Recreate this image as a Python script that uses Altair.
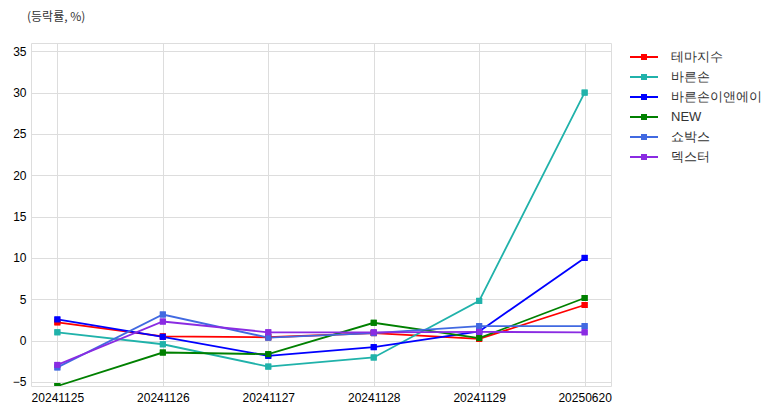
import altair as alt
import pandas as pd

dates = ["20241125", "20241126", "20241127", "20241128", "20241129", "20250620"]
series_names = ["테마지수", "바른손", "바른손이앤에이", "NEW", "쇼박스", "덱스터"]
theme_idx = [2.2, 0.5, 0.4, 0.9, 0.2, 4.3]
barunson = [1.0, -0.45, -3.15, -2.05, 4.8, 30.0]
barunson_ena = [2.55, 0.45, -1.85, -0.8, 1.1, 10.0]
new_vals = [-5.5, -1.45, -1.65, 2.15, 0.3, 5.15]
showbox = [-3.25, 3.15, 0.35, 0.9, 1.75, 1.75]
dexter = [-2.95, 2.3, 1.0, 1.0, 1.05, 1.0]
colors = ["#ff0000", "#20b2aa", "#0000ff", "#008000", "#4169e1", "#8a2be2"]
y_ticks = [-5, 0, 5, 10, 15, 20, 25, 30, 35]

all_vals = [theme_idx, barunson, barunson_ena, new_vals, showbox, dexter]
rows = []
for name, vals in zip(series_names, all_vals):
    for d, v in zip(dates, vals):
        rows.append({"date": d, "series": name, "value": v})
df = pd.DataFrame(rows)

FONT = "Noto Sans CJK KR"
legend_path = "M-2,-0.15 H2 V0.15 H-2 Z M-0.43,-0.43 H0.43 V0.43 H-0.43 Z"

x_enc = alt.X("date:O", sort=dates, title=None,
              scale=alt.Scale(type="point", padding=0.25),
              axis=alt.Axis(labelAngle=0, ticks=False, domain=False, grid=True,
                            labelPadding=6, labelFontSize=12))
y_enc = alt.Y("value:Q", title=None,
              scale=alt.Scale(domain=[-5.5, 36], nice=False, zero=False),
              axis=alt.Axis(values=y_ticks, ticks=False, domain=False, grid=True,
                            labelPadding=5, labelFontSize=12))
color_enc = alt.Color("series:N", sort=series_names,
                      scale=alt.Scale(domain=series_names, range=colors),
                      legend=alt.Legend(title=None, orient="none", legendX=606, legendY=7,
                                        symbolType=legend_path, symbolSize=196,
                                        symbolStrokeWidth=0, symbolOpacity=1,
                                        labelFontSize=13, labelOffset=20, rowPadding=6,
                                        padding=0, labelColor="#333333"))

points = alt.Chart(df).mark_point(shape="square", filled=True, size=36, opacity=1, clip=True).encode(
    x=x_enc, y=y_enc, color=color_enc)
lines = alt.Chart(df).mark_line(strokeWidth=1.8, clip=True).encode(
    x=x_enc, y=y_enc, color=color_enc)

chart = alt.layer(points, lines, points).properties(
    width=580, height=343,
    autosize=alt.AutoSizeParams(type="none"),
    padding={"left": 23, "top": 35, "right": 163, "bottom": 22},
    title=alt.TitleParams("(등락률, %)", anchor="start", frame="group", dx=-4, offset=19,
                          fontSize=12, fontWeight="normal", color="#333333", font=FONT),
).configure_view(stroke="#cccccc", strokeWidth=1).configure_axis(
    gridColor="#cccccc", gridWidth=1, labelColor="#333333", labelFont=FONT
).configure_legend(labelFont=FONT).configure(background="white")

chart.save("out.html", embed_options={"renderer": "svg", "actions": False})
